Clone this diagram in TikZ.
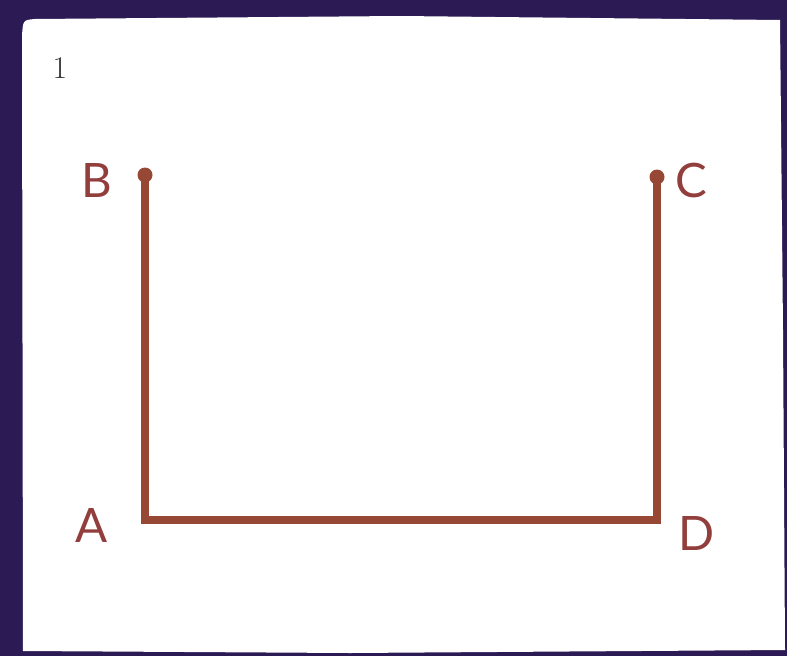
\documentclass[tikz,border=0pt]{standalone}
\usepackage{fontspec}
\setsansfont{Lato}
\usepackage{tikz}
\usetikzlibrary{positioning}

\definecolor{frame}{RGB}{44,26,84}
\definecolor{rust}{RGB}{150,72,52}
\definecolor{letter}{RGB}{145,62,60}

\tikzset{
  path line/.style={line width=4pt, rust, line join=miter},
  end dot/.style={circle, fill=rust, inner sep=0pt, minimum size=0.30cm},
  corner label/.style={font=\sffamily\fontsize{27}{30}\selectfont, letter, inner sep=0pt}
}

\begin{document}
\begin{tikzpicture}
\useasboundingbox (0,0) rectangle (15.74,13.12);
\fill[frame] (0,0) rectangle (15.74,13.12);

% white card
\fill[white] (0.46,0.10) -- (7.0,0.06) -- (15.70,0.12) -- (15.66,6.5) -- (15.60,12.72)
  -- (8.0,12.80) -- (0.70,12.74) .. controls (0.46,12.72) .. (0.44,12.40) -- cycle;

\node[font=\fontsize{18}{20}\selectfont, gray!40!black] (num) at (1.20,11.76) {1};

% corners
\coordinate (B) at (2.90,9.62);
\coordinate (A) at (2.90,2.72);
\coordinate (D) at (13.14,2.72);
\coordinate (C) at (13.14,9.58);

\draw[path line] (B) -- (A) -- (D) -- (C);
\node[end dot] (dotB) at (B) {};
\node[end dot] (dotC) at (C) {};

\node[corner label] (lB) at (1.94,9.52) {B};
\node[corner label] (lC) at (13.82,9.52) {C};
\node[corner label] (lA) at (1.84,2.62) {A};
\node[corner label] (lD) at (13.94,2.46) {D};
\end{tikzpicture}
\end{document}
